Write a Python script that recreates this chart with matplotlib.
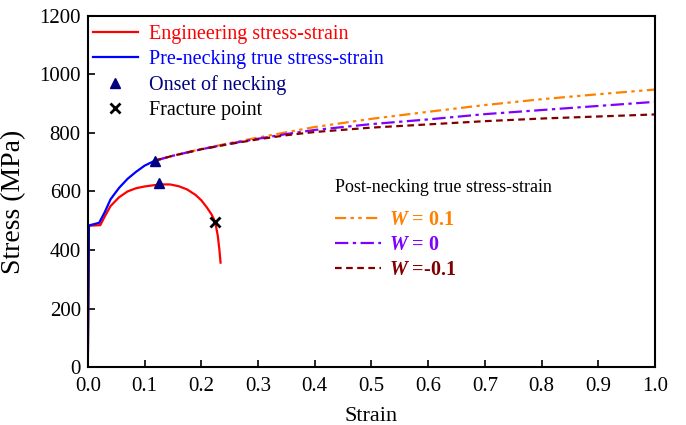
import matplotlib
matplotlib.use("Agg")
import matplotlib.pyplot as plt
from matplotlib.lines import Line2D

plt.rcParams['font.family'] = ['Liberation Serif', 'DejaVu Serif']
plt.rcParams['mathtext.fontset'] = 'custom'
plt.rcParams['mathtext.it'] = 'Liberation Serif:italic:bold'
plt.rcParams['mathtext.rm'] = 'Liberation Serif:bold'

# Engineering stress-strain
eng_strain = [0, 0.002, 0.022, 0.03, 0.04, 0.055, 0.07, 0.085, 0.1, 0.115, 0.13,
              0.145, 0.16, 0.175, 0.19, 0.2, 0.21, 0.218, 0.2245, 0.229, 0.232, 0.234]
eng_stress = [0, 483, 485, 515, 550, 580, 600, 611, 617, 621, 624,
              624, 618, 607, 588, 570, 545, 522, 496, 450, 400, 357]

# Pre-necking true stress-strain
true_strain = [0, 0.002, 0.02, 0.03, 0.04, 0.055, 0.07, 0.085, 0.1, 0.118]
true_stress = [0, 484, 493, 530, 573, 612, 643, 667, 688, 705]

# Post-necking true stress-strain
post_strain = [0.118, 0.15, 0.2, 0.25, 0.3, 0.35, 0.4, 0.5, 0.6, 0.7, 0.8, 0.9, 1.0]
post_w_pos = [705, 722, 745, 765, 784, 802, 820, 848, 872, 895, 915, 932, 948]
post_w_zero = [705, 722, 744, 763, 780, 796, 810, 830, 846, 864, 878, 892, 906]
post_w_neg = [705, 722, 744, 762, 778, 792, 803, 818, 829, 840, 849, 856, 863]

onset_strain = [0.118, 0.125]
onset_stress = [705, 628]
fracture_strain = [0.2245]
fracture_stress = [496]

w_labels = [r'$W$ = 0.1', r'$W$ = 0', r'$W$ =-0.1']

fig = plt.figure(figsize=(6.86, 4.25), dpi=100)
ax = fig.add_axes([0.128, 0.136, 0.827, 0.827])

c_orange = '#FF8000'
c_purple = '#7F00FF'
c_brown = '#800000'

ax.plot(post_strain, post_w_pos, color=c_orange, lw=1.6, ls=(0, (5, 2, 1.5, 2, 1.5, 2)))
ax.plot(post_strain, post_w_zero, color=c_purple, lw=1.6, ls=(0, (6, 2, 1.5, 2)))
ax.plot(post_strain, post_w_neg, color=c_brown, lw=1.6, ls=(0, (3, 2)))
ax.plot(eng_strain, eng_stress, color='#FF0000', lw=1.6)
ax.plot(true_strain, true_stress, color='#0000FF', lw=1.6)
ax.plot(onset_strain, onset_stress, ls='none', marker='^', color='#000080', ms=7)
ax.plot(fracture_strain, fracture_stress, ls='none', marker='x', color='black', ms=7, mew=2)

ax.set_xlim(0, 1.0)
ax.set_ylim(0, 1200)
ax.set_xticks([i / 10 for i in range(11)])
ax.set_yticks(range(0, 1201, 200))
ax.set_xticklabels([f'{i/10:.1f}' for i in range(11)])
ax.tick_params(direction='in', labelsize=15, length=5, width=1.2)
ax.tick_params(axis='x', pad=7)
ax.tick_params(axis='y', pad=5)
for s in ax.spines.values():
    s.set_linewidth(1.5)
ax.set_xlabel('Strain', fontsize=16, labelpad=8)
ax.set_ylabel('Stress (MPa)', fontsize=20)
ax.yaxis.set_label_coords(-0.108, 0.471)

h1 = [Line2D([], [], color='#FF0000', lw=1.6),
      Line2D([], [], color='#0000FF', lw=1.6),
      Line2D([], [], ls='none', marker='^', color='#000080', ms=7),
      Line2D([], [], ls='none', marker='x', color='black', ms=7, mew=2)]
l1 = ['Engineering stress-strain', 'Pre-necking true stress-strain',
      'Onset of necking', 'Fracture point']
leg1 = ax.legend(h1, l1, loc='upper left', frameon=False, fontsize=14.5,
                 borderaxespad=0.15, borderpad=0.1, handlelength=2.25,
                 handletextpad=0.55, labelspacing=0.3,
                 bbox_to_anchor=(0.0, 0.988))
for t, c in zip(leg1.get_texts(), ['#FF0000', '#0000FF', '#000080', 'black']):
    t.set_color(c)
ax.add_artist(leg1)

h2 = [Line2D([], [], color=c_orange, lw=1.6, ls=(0, (5, 2, 1.5, 2, 1.5, 2))),
      Line2D([], [], color=c_purple, lw=1.6, ls=(0, (6, 2, 1.5, 2))),
      Line2D([], [], color=c_brown, lw=1.6, ls=(0, (3, 2)))]
leg2 = ax.legend(h2, w_labels, loc='upper left', frameon=False,
                 bbox_to_anchor=(0.4356, 0.536), borderpad=0, borderaxespad=0,
                 title='Post-necking true stress-strain',
                 title_fontsize=13, handlelength=2.3, handletextpad=0.4,
                 labelspacing=0.25,
                 prop={'family': 'Liberation Serif', 'weight': 'bold', 'size': 14.5})
leg2._legend_box.align = 'left'
leg2._legend_box.sep = 10.5
for t, c in zip(leg2.get_texts(), [c_orange, c_purple, c_brown]):
    t.set_color(c)

fig.savefig('out.png', dpi=100)
